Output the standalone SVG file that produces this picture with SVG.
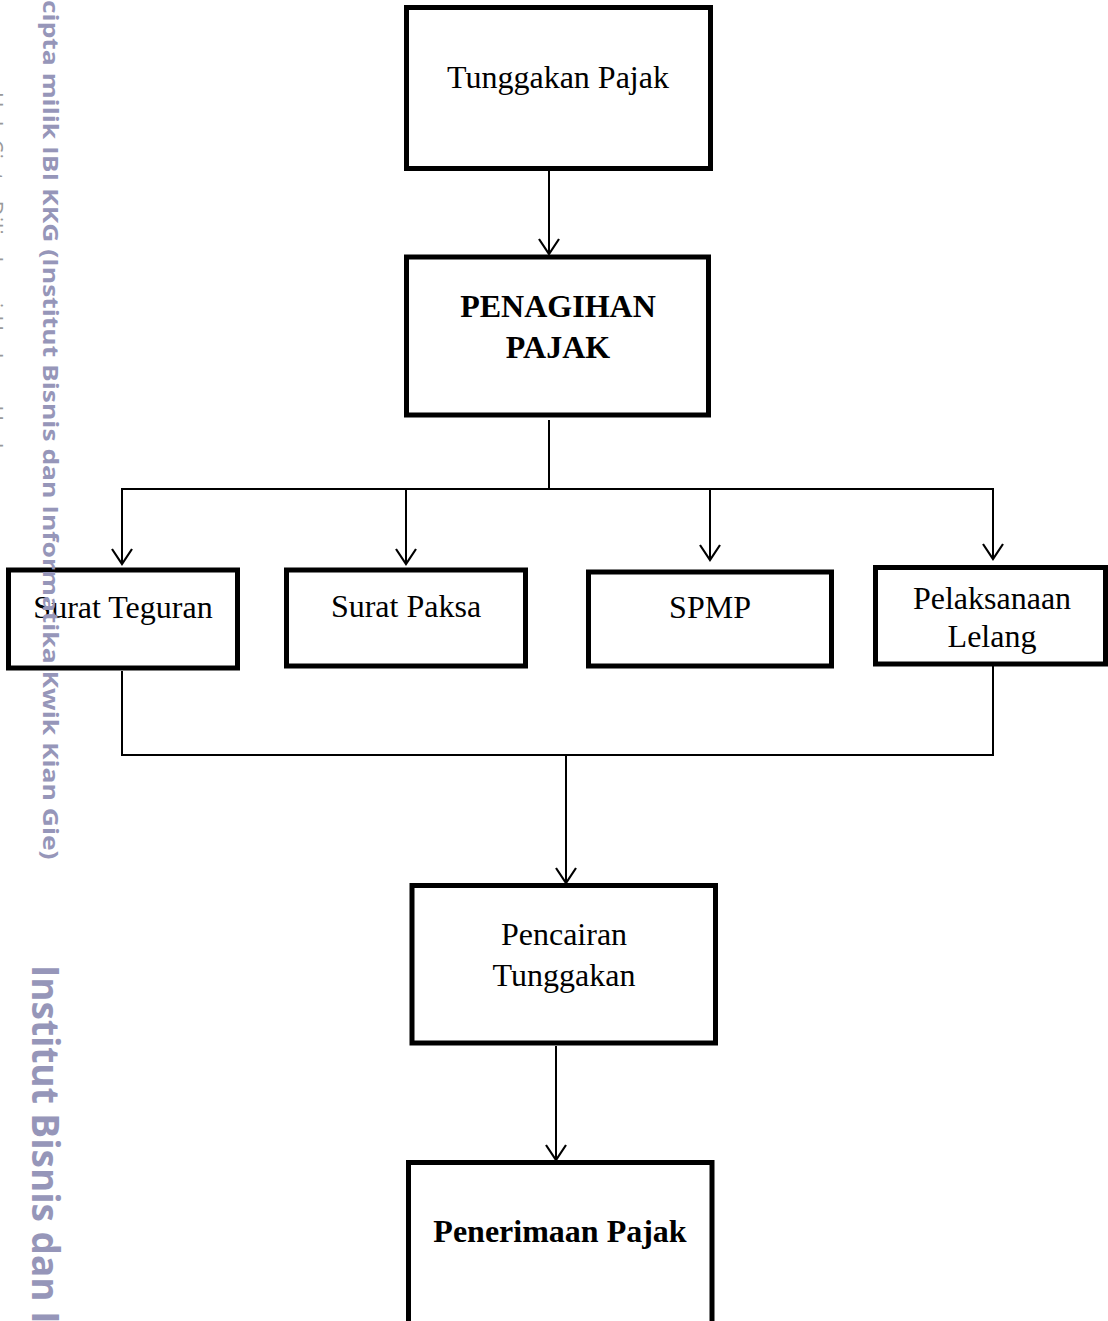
<svg xmlns="http://www.w3.org/2000/svg" width="1108" height="1321" viewBox="0 0 1108 1321">
<style>
.box{fill:#fff;stroke:#000;stroke-width:5}
.t{font-family:"Liberation Serif","Times New Roman",serif;font-size:32px;fill:#000;text-anchor:middle}
.b{font-weight:bold}
.con{fill:none;stroke:#000;stroke-width:2}
.wm{font-family:"Open Sans","DejaVu Sans",sans-serif;font-weight:bold;fill:#9696b9}
</style>
<defs>
<marker id="arr" markerWidth="24" markerHeight="20" refX="11" refY="16" orient="0" markerUnits="userSpaceOnUse">
<path d="M1,1 L11,16 L21,1" fill="none" stroke="#000" stroke-width="2.2"/>
</marker>
</defs>
<rect width="1108" height="1321" fill="#fff"/>
<g id="connectors">
<line class="con" x1="549" y1="171" x2="549" y2="254" marker-end="url(#arr)"/>
<polyline class="con" points="549,420 549,489"/>
<line class="con" x1="121" y1="489" x2="994" y2="489"/>
<line class="con" x1="122" y1="489" x2="122" y2="564" marker-end="url(#arr)"/>
<line class="con" x1="406" y1="489" x2="406" y2="564" marker-end="url(#arr)"/>
<line class="con" x1="710" y1="489" x2="710" y2="560" marker-end="url(#arr)"/>
<line class="con" x1="993" y1="489" x2="993" y2="559" marker-end="url(#arr)"/>
<line class="con" x1="122" y1="671" x2="122" y2="755"/>
<line class="con" x1="993" y1="666" x2="993" y2="755"/>
<line class="con" x1="121" y1="755" x2="994" y2="755"/>
<line class="con" x1="566" y1="755" x2="566" y2="883" marker-end="url(#arr)"/>
<line class="con" x1="556" y1="1046" x2="556" y2="1160" marker-end="url(#arr)"/>
</g>
<g id="n-tunggakan">
<rect class="box" x="406.5" y="7.5" width="304" height="161"/>
<text class="t" x="558" y="88">Tunggakan Pajak</text>
</g>
<g id="n-penagihan">
<rect class="box" x="406.5" y="257" width="302" height="158"/>
<text class="t b" x="558" y="317">PENAGIHAN</text>
<text class="t b" x="558" y="358">PAJAK</text>
</g>
<g id="n-teguran">
<rect class="box" x="8.5" y="570" width="229" height="98"/>
<text class="t" x="123" y="618">Surat Teguran</text>
</g>
<g id="n-paksa">
<rect class="box" x="286.5" y="570" width="239" height="96"/>
<text class="t" x="406" y="617">Surat Paksa</text>
</g>
<g id="n-spmp">
<rect class="box" x="588.5" y="572" width="243" height="94"/>
<text class="t" x="710" y="618">SPMP</text>
</g>
<g id="n-lelang">
<rect class="box" x="875.5" y="567.5" width="230" height="96.5"/>
<text class="t" x="992" y="609">Pelaksanaan</text>
<text class="t" x="992" y="647">Lelang</text>
</g>
<g id="n-pencairan">
<rect class="box" x="412" y="885.5" width="303.5" height="157.5"/>
<text class="t" x="564" y="945">Pencairan</text>
<text class="t" x="564" y="986">Tunggakan</text>
</g>
<g id="n-penerimaan">
<rect class="box" x="408.5" y="1162.5" width="303.5" height="170"/>
<text class="t b" x="560" y="1242">Penerimaan Pajak</text>
</g>
<g id="watermark">
<text class="wm" font-size="21" transform="translate(43,0) rotate(90) scale(1.258,1)">cipta milik IBI KKG (Institut Bisnis dan Informatika Kwik Kian Gie)</text>
<text class="wm" font-size="37" transform="translate(32,965) rotate(90)">Institut Bisnis dan Informatika Kwik Kian Gie</text>
<text font-family="Open Sans, DejaVu Sans, sans-serif" font-size="21" fill="#999" textLength="395" lengthAdjust="spacing" transform="translate(-13,92) rotate(90)">Hak Cipta Dilindungi Undang-Undang</text>
</g>
</svg>
